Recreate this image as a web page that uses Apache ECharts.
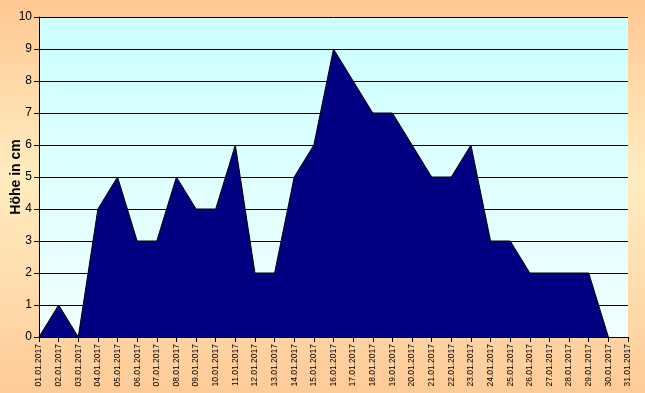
<!DOCTYPE html>
<html><head><meta charset="utf-8">
<script src="https://cdn.jsdelivr.net/npm/echarts@6/dist/echarts.min.js"></script>
<style>html,body{margin:0;padding:0;}#c{width:645px;height:393px;}</style>
</head><body><div id="c"></div>
<script>
const categories = ["01.01.2017","02.01.2017","03.01.2017","04.01.2017","05.01.2017","06.01.2017","07.01.2017","08.01.2017","09.01.2017","10.01.2017","11.01.2017","12.01.2017","13.01.2017","14.01.2017","15.01.2017","16.01.2017","17.01.2017","18.01.2017","19.01.2017","20.01.2017","21.01.2017","22.01.2017","23.01.2017","24.01.2017","25.01.2017","26.01.2017","27.01.2017","28.01.2017","29.01.2017","30.01.2017","31.01.2017"];
const heights = [0,1,0,4,5,3,3,5,4,4,6,2,2,5,6,9,8,7,7,6,5,5,6,3,3,2,2,2,2,0,null];
const yTicks = {min:0, max:10, interval:1};
const yName = "Höhe in cm";

const chart = echarts.init(document.getElementById('c'), null, {renderer:'canvas'});
chart.setOption({
  animation:false,
  backgroundColor:{type:'linear',x:0,y:0,x2:0,y2:1,colorStops:[
    {offset:0,color:'#FFC893'},{offset:0.45,color:'#FFEDC0'},{offset:1,color:'#FFCB98'}]},
  grid:{left:39,top:17,right:17,bottom:56,show:true,borderWidth:0,containLabel:false,outerBoundsMode:'none',
    backgroundColor:{type:'linear',x:0,y:0,x2:0,y2:1,colorStops:[
      {offset:0,color:'#CCFFFF'},{offset:1,color:'#F2FFFF'}]}},
  xAxis:{type:'category',data:categories,boundaryGap:false,
    axisLine:{lineStyle:{color:'#000',width:1}},
    axisTick:{show:true,length:5,interval:0,lineStyle:{color:'#000'}},
    axisLabel:{rotate:90,interval:0,fontSize:8.5,color:'#000',fontFamily:'Liberation Sans',margin:7},
    splitLine:{show:false}},
  yAxis:{type:'value',min:yTicks.min,max:yTicks.max,interval:yTicks.interval,
    name:yName,nameLocation:'middle',nameGap:16,nameMoveOverlap:false,
    nameTextStyle:{fontSize:14,fontWeight:'bold',color:'#000',fontFamily:'Liberation Sans'},
    axisLine:{show:true,lineStyle:{color:'#000',width:1}},
    axisTick:{show:true,length:5,lineStyle:{color:'#000'}},
    axisLabel:{fontSize:12,color:'#000',fontFamily:'Liberation Sans',margin:7},
    splitLine:{show:true,lineStyle:{color:'#000',width:1}}},
  series:[{type:'line',data:heights,symbol:'none',
    lineStyle:{color:'#000',width:1},
    areaStyle:{color:'#000080',opacity:1}}]
});
</script></body></html>
